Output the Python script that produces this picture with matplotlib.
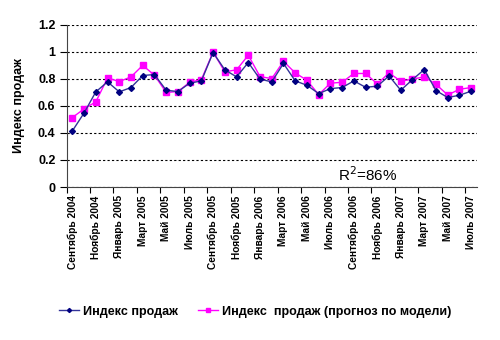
import numpy as np
import matplotlib
matplotlib.use('Agg')
import matplotlib.pyplot as plt

plt.rcParams['font.family'] = ['Liberation Sans', 'DejaVu Sans']

# monthly sales index, Sep 2004 .. Jul 2007
months = ['Сентябрь 2004', 'Октябрь 2004', 'Ноябрь 2004', 'Декабрь 2004',
          'Январь 2005', 'Февраль 2005', 'Март 2005', 'Апрель 2005',
          'Май 2005', 'Июнь 2005', 'Июль 2005', 'Август 2005',
          'Сентябрь 2005', 'Октябрь 2005', 'Ноябрь 2005', 'Декабрь 2005',
          'Январь 2006', 'Февраль 2006', 'Март 2006', 'Апрель 2006',
          'Май 2006', 'Июнь 2006', 'Июль 2006', 'Август 2006',
          'Сентябрь 2006', 'Октябрь 2006', 'Ноябрь 2006', 'Декабрь 2006',
          'Январь 2007', 'Февраль 2007', 'Март 2007', 'Апрель 2007',
          'Май 2007', 'Июнь 2007', 'Июль 2007']
sales = [0.415, 0.548, 0.704, 0.778, 0.704, 0.736, 0.825, 0.832,
         0.716, 0.706, 0.768, 0.785, 0.995, 0.867, 0.815, 0.921,
         0.798, 0.778, 0.914, 0.785, 0.753, 0.691, 0.728, 0.736,
         0.785, 0.738, 0.746, 0.822, 0.716, 0.795, 0.869, 0.714,
         0.662, 0.679, 0.709]
forecast = [0.514, 0.578, 0.630, 0.807, 0.780, 0.815, 0.900, 0.827,
            0.700, 0.706, 0.775, 0.795, 0.998, 0.852, 0.867, 0.975,
            0.817, 0.802, 0.930, 0.844, 0.790, 0.684, 0.768, 0.775,
            0.840, 0.840, 0.763, 0.844, 0.783, 0.798, 0.815, 0.760,
            0.681, 0.723, 0.736]
r2_text = 'R$^2$=86%'

x = np.arange(len(months))

fig = plt.figure(figsize=(5, 3.4), dpi=100)
ax = fig.add_axes([0.133, 0.45, 0.821, 0.477])

ax.plot(x, sales, color='#333399', lw=1, marker='D', ms=3,
        mfc='#000080', mec='#000080', label='Индекс продаж', zorder=3)
ax.plot(x, forecast, color='#FF00FF', lw=1, marker='s', ms=5,
        mfc='#FF00FF', mec='#FF00FF', label='Индекс  продаж (прогноз по модели)',
        zorder=2)

ax.set_xlim(-0.5, len(months) - 0.5)
ax.set_ylim(0, 1.2)
ax.set_yticks(np.arange(0, 1.21, 0.2))
ax.set_yticklabels(['0', '0.2', '0.4', '0.6', '0.8', '1', '1.2'],
                   fontsize=9, fontweight='bold')
ax.yaxis.grid(True, color='black', ls=(0, (2, 2)), lw=0.8)
ax.set_axisbelow(True)

# labels every second month, tick marks on the category borders
ax.set_xticks(x[::2])
ax.set_xticklabels(months[::2], rotation=90, fontsize=7.3, fontweight='bold')
ax.tick_params(axis='x', length=0, pad=6)
ax.set_xticks(np.arange(-0.5, len(months), 2), minor=True)
ax.tick_params(axis='x', which='minor', length=4, width=0.8)
ax.tick_params(axis='y', length=5, width=0.8, pad=3)

for s in ['top', 'right']:
    ax.spines[s].set_visible(False)
for s in ['left', 'bottom']:
    ax.spines[s].set_color('#444444')

ax.set_ylabel('Индекс продаж', fontsize=9, fontweight='bold', labelpad=9)
ax.text(0.733, 0.075, r2_text, transform=ax.transAxes, fontsize=11,
        ha='center', va='center')

fig.legend(loc='center', bbox_to_anchor=(0.51, 0.083), ncol=2, frameon=False,
           prop={'size': 9, 'weight': 'bold'}, handlelength=1.6,
           columnspacing=1.6, handletextpad=0.3, markerscale=0.7)

plt.savefig('out.png', dpi=100)
